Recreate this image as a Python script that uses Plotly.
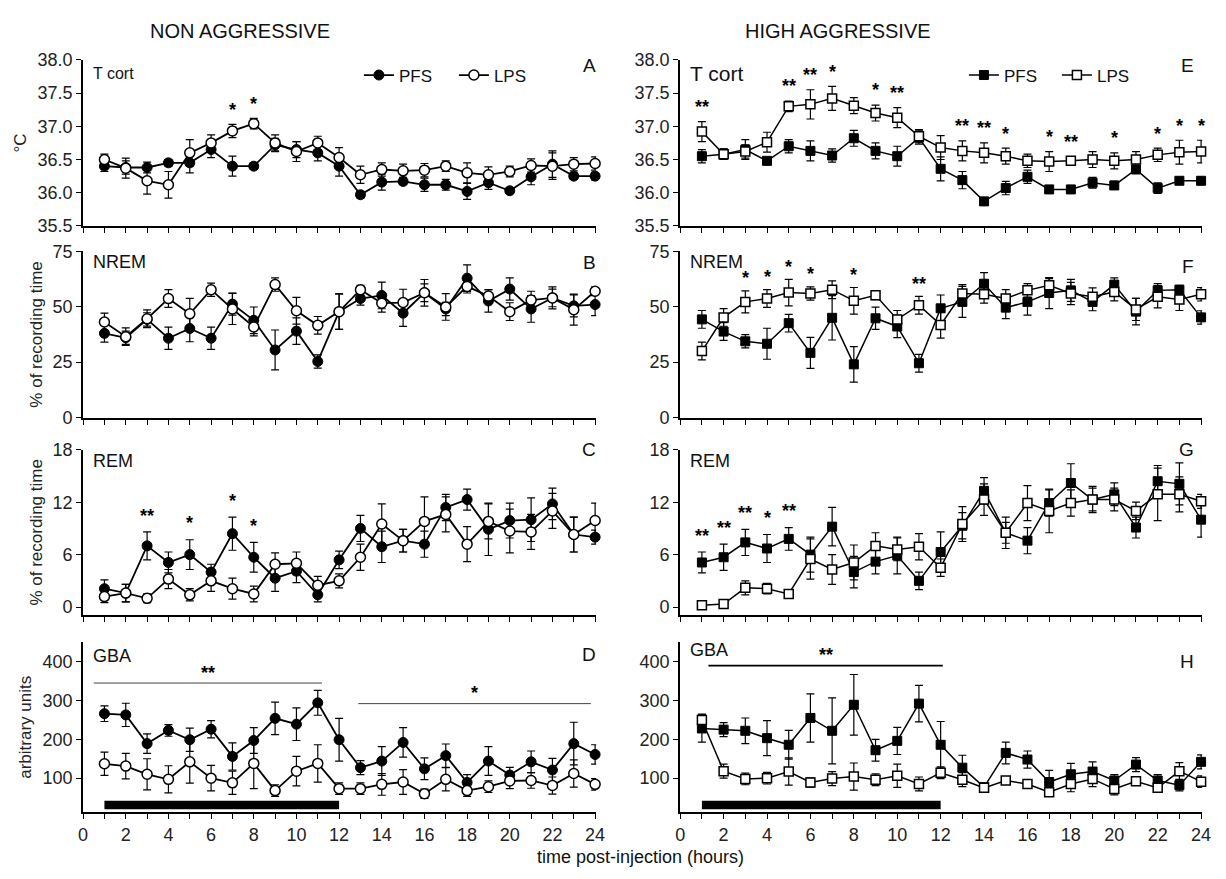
import plotly.graph_objects as go

hours = list(range(1, 25))
x_ticks = list(range(0, 25))
x_ticklabels = [str(h) if h % 2 == 0 else "" for h in x_ticks]

# ---------------- NON AGGRESSIVE ----------------
# A: cortical temperature (°C)
na_tcort_pfs = [36.40, 36.38, 36.38, 36.45, 36.45, 36.65, 36.40, 36.40, 36.72, 36.65, 36.60, 36.40,
                35.97, 36.16, 36.17, 36.12, 36.12, 36.02, 36.15, 36.03, 36.24, 36.43, 36.25, 36.25]
na_tcort_pfs_err = [0.08, 0.10, 0.08, 0.05, 0.15, 0.12, 0.15, 0.05, 0.10, 0.12, 0.12, 0.15,
                    0.05, 0.12, 0.05, 0.10, 0.08, 0.12, 0.10, 0.04, 0.12, 0.20, 0.05, 0.06]
na_tcort_lps = [36.50, 36.37, 36.18, 36.12, 36.60, 36.75, 36.93, 37.04, 36.75, 36.62, 36.75, 36.53,
                36.27, 36.35, 36.33, 36.34, 36.40, 36.30, 36.27, 36.32, 36.41, 36.40, 36.43, 36.44]
na_tcort_lps_err = [0.08, 0.15, 0.20, 0.20, 0.20, 0.12, 0.10, 0.08, 0.12, 0.15, 0.10, 0.15,
                    0.13, 0.10, 0.10, 0.10, 0.08, 0.15, 0.12, 0.08, 0.10, 0.20, 0.10, 0.10]
na_tcort_sig = {7: "*", 8: "*"}

# B: NREM (% of recording time)
na_nrem_pfs = [38.0, 36.0, 44.3, 35.8, 40.2, 35.8, 51.2, 43.9, 30.5, 39.0, 25.3, 47.8,
               53.7, 55.1, 47.1, 56.3, 49.0, 62.9, 52.6, 58.0, 49.0, 54.0, 50.4, 51.0]
na_nrem_pfs_err = [4, 3, 3, 5, 6, 5, 5, 6, 9, 6, 3, 8, 3, 6, 6, 4, 3, 6, 5, 5, 6, 4, 5, 5]
na_nrem_lps = [43.1, 36.5, 44.6, 53.7, 46.8, 57.7, 49.0, 40.9, 60.0, 48.2, 41.6, 47.8,
               57.7, 51.6, 51.9, 56.3, 49.9, 59.2, 54.8, 47.8, 53.0, 54.0, 48.7, 57.0]
na_nrem_lps_err = [4, 4, 4, 4, 7, 3, 7, 4, 3, 6, 4, 8, 2, 4, 6, 6, 6, 3, 3, 4, 4, 5, 7, 2]
na_nrem_sig = {}

# C: REM (% of recording time)
na_rem_pfs = [2.1, 1.6, 7.0, 5.1, 6.0, 4.0, 8.4, 5.7, 3.3, 4.1, 1.4, 5.4,
              9.0, 6.9, 7.6, 7.2, 11.4, 12.3, 8.9, 9.9, 10.0, 11.8, 8.3, 8.0]
na_rem_pfs_err = [1.0, 1.0, 1.6, 1.2, 1.7, 0.9, 1.9, 1.7, 1.5, 1.3, 0.8, 1.0,
                  1.5, 1.8, 1.3, 1.5, 1.5, 1.2, 3.0, 2.0, 2.5, 1.8, 2.0, 0.8]
na_rem_lps = [1.2, 1.6, 1.0, 3.2, 1.4, 3.0, 2.1, 1.5, 4.9, 5.0, 2.5, 3.0,
              5.7, 9.5, 7.6, 9.8, 10.6, 7.2, 9.8, 8.7, 8.6, 11.0, 8.3, 9.9]
na_rem_lps_err = [0.7, 1.0, 0.5, 1.1, 0.7, 1.2, 1.2, 0.9, 1.3, 1.3, 1.0, 0.8,
                  1.5, 2.3, 1.3, 2.8, 2.0, 2.0, 2.0, 2.5, 2.0, 2.0, 2.0, 2.0]
na_rem_sig = {3: "**", 5: "*", 7: "*", 8: "*"}

# D: GBA (arbitrary units)
na_gba_pfs = [266, 263, 189, 223, 199, 226, 156, 197, 254, 239, 294, 199,
              127, 144, 192, 124, 158, 89, 144, 108, 142, 121, 189, 161]
na_gba_pfs_err = [20, 30, 25, 15, 30, 22, 35, 33, 42, 42, 32, 55, 18, 37, 38, 28, 30, 20, 37, 20, 28, 30, 55, 25]
na_gba_lps = [137, 131, 110, 97, 142, 100, 88, 138, 68, 118, 138, 73,
              73, 84, 90, 60, 97, 68, 78, 93, 94, 81, 112, 84]
na_gba_lps_err = [30, 33, 40, 35, 55, 33, 30, 65, 15, 38, 48, 15, 15, 28, 32, 12, 30, 15, 15, 20, 20, 22, 35, 15]
na_gba_sig = {}
na_gba_spans = [(0.5, 11.2, 345, "**"), (12.9, 23.8, 292, "*")]

# ---------------- HIGH AGGRESSIVE ----------------
ha_tcort_pfs = [36.55, 36.58, 36.65, 36.48, 36.70, 36.63, 36.56, 36.82, 36.63, 36.55, 36.83, 36.36,
                36.19, 35.87, 36.07, 36.24, 36.05, 36.05, 36.15, 36.11, 36.35, 36.07, 36.18, 36.18]
ha_tcort_pfs_err = [0.10, 0.08, 0.15, 0.05, 0.10, 0.15, 0.10, 0.12, 0.12, 0.15, 0.10, 0.18,
                    0.13, 0.05, 0.10, 0.10, 0.05, 0.05, 0.08, 0.06, 0.06, 0.08, 0.05, 0.06]
ha_tcort_lps = [36.92, 36.58, 36.62, 36.76, 37.30, 37.33, 37.42, 37.31, 37.20, 37.13, 36.85, 36.68,
                36.63, 36.60, 36.55, 36.48, 36.47, 36.48, 36.50, 36.48, 36.50, 36.57, 36.61, 36.62]
ha_tcort_lps_err = [0.15, 0.08, 0.10, 0.15, 0.08, 0.22, 0.18, 0.12, 0.12, 0.15, 0.10, 0.18,
                    0.15, 0.15, 0.12, 0.10, 0.15, 0.06, 0.12, 0.12, 0.12, 0.10, 0.18, 0.17]
ha_tcort_sig = {1: "**", 5: "**", 6: "**", 7: "*", 9: "*", 10: "**", 13: "**", 14: "**", 15: "*",
                17: "*", 18: "**", 20: "*", 22: "*", 23: "*", 24: "*"}

ha_nrem_pfs = [44.3, 38.8, 34.4, 33.3, 42.6, 29.2, 45.0, 24.0, 44.8, 41.1, 24.5, 49.3,
               52.2, 60.4, 49.6, 52.2, 56.2, 57.4, 52.2, 60.0, 47.8, 57.4, 57.7, 45.2]
ha_nrem_pfs_err = [4, 4, 3, 7, 4, 7, 10, 8, 5, 5, 4, 6, 7, 5, 5, 6, 7, 5, 4, 3, 6, 3, 2, 3]
ha_nrem_lps = [30.0, 45.2, 52.2, 53.7, 56.4, 56.0, 57.7, 52.7, 55.2, 44.3, 50.7, 41.8,
               56.0, 55.6, 53.7, 57.4, 59.7, 56.0, 54.5, 56.7, 48.8, 54.5, 53.3, 55.6]
ha_nrem_lps_err = [4, 4, 5, 4, 6, 3, 4, 6, 2, 4, 4, 6, 4, 4, 4, 3, 3, 5, 4, 4, 5, 5, 5, 3]
ha_nrem_sig = {3: "*", 4: "*", 5: "*", 6: "*", 8: "*", 11: "**"}

ha_rem_pfs = [5.1, 5.7, 7.4, 6.7, 7.8, 6.0, 9.2, 4.0, 5.2, 5.9, 3.0, 6.3,
              9.3, 13.3, 8.5, 7.6, 11.9, 14.2, 12.3, 12.9, 9.1, 14.4, 14.1, 10.0]
ha_rem_pfs_err = [1.2, 1.5, 1.5, 1.6, 1.3, 2.0, 2.2, 1.8, 1.4, 2.1, 1.0, 2.3,
                  1.5, 1.5, 1.8, 1.5, 1.5, 2.2, 1.3, 1.3, 1.2, 1.8, 2.4, 2.0]
ha_rem_lps = [0.2, 0.35, 2.2, 2.1, 1.5, 5.5, 4.3, 5.1, 7.0, 6.6, 6.9, 4.5,
              9.5, 12.3, 8.5, 11.9, 11.0, 11.9, 12.3, 12.3, 11.0, 12.9, 12.9, 12.1]
ha_rem_lps_err = [0.3, 0.3, 0.8, 0.6, 0.4, 2.3, 1.7, 2.0, 1.5, 1.3, 1.5, 1.0,
                  2.0, 1.8, 1.2, 2.0, 2.5, 1.5, 1.5, 1.3, 1.0, 3.0, 2.0, 0.8]
ha_rem_sig = {1: "**", 2: "**", 3: "**", 4: "*", 5: "**"}

ha_gba_pfs = [228, 225, 222, 203, 186, 255, 222, 289, 172, 196, 292, 186,
              127, 77, 165, 148, 90, 110, 117, 94, 135, 94, 82, 142]
ha_gba_pfs_err = [35, 18, 33, 45, 37, 62, 85, 78, 28, 35, 47, 60, 32, 5, 28, 22, 30, 28, 25, 15, 18, 15, 15, 18]
ha_gba_lps = [250, 118, 98, 100, 117, 89, 99, 104, 96, 106, 85, 114,
              96, 75, 94, 85, 64, 85, 98, 72, 92, 75, 118, 91]
ha_gba_lps_err = [15, 18, 15, 15, 35, 12, 18, 35, 15, 30, 18, 15, 18, 10, 10, 10, 10, 20, 20, 15, 10, 10, 22, 15]
ha_gba_sig = {}
ha_gba_spans = [(1.3, 12.1, 390, "**")]

light_period = (1, 12)

col_titles = ["NON AGGRESSIVE", "HIGH AGGRESSIVE"]
row_names = ["T cort", "NREM", "REM", "GBA"]
y_titles = ["°C", "% of recording time", "% of recording time", "arbitrary units"]
y_ranges = [[35.5, 38.0], [0, 75], [-0.9, 18], [12, 450]]
y_tickvals = [[35.5, 36.0, 36.5, 37.0, 37.5, 38.0], [0, 25, 50, 75], [0, 6, 12, 18], [100, 200, 300, 400]]
y_ticktext = [["35.5", "36.0", "36.5", "37.0", "37.5", "38.0"], ["0", "25", "50", "75"], ["0", "6", "12", "18"],
              ["100", "200", "300", "400"]]
letters = [["A", "B", "C", "D"], ["E", "F", "G", "H"]]

data = [
    [(na_tcort_pfs, na_tcort_pfs_err, na_tcort_lps, na_tcort_lps_err, na_tcort_sig),
     (na_nrem_pfs, na_nrem_pfs_err, na_nrem_lps, na_nrem_lps_err, na_nrem_sig),
     (na_rem_pfs, na_rem_pfs_err, na_rem_lps, na_rem_lps_err, na_rem_sig),
     (na_gba_pfs, na_gba_pfs_err, na_gba_lps, na_gba_lps_err, na_gba_sig)],
    [(ha_tcort_pfs, ha_tcort_pfs_err, ha_tcort_lps, ha_tcort_lps_err, ha_tcort_sig),
     (ha_nrem_pfs, ha_nrem_pfs_err, ha_nrem_lps, ha_nrem_lps_err, ha_nrem_sig),
     (ha_rem_pfs, ha_rem_pfs_err, ha_rem_lps, ha_rem_lps_err, ha_rem_sig),
     (ha_gba_pfs, ha_gba_pfs_err, ha_gba_lps, ha_gba_lps_err, ha_gba_sig)],
]
gba_spans = [na_gba_spans, ha_gba_spans]

# layout placement (pixels for domains, paper fractions for letters)
W, H = 1226, 879
col_px = [(79, 598), (683, 1211)]
row_px = [(51, 221), (247, 417), (450, 619), (647, 821)]
label_y = [[37.79, 70.2, 16.7, 414], [37.79, 70.1, 16.7, 429]]
letter_py = [[57, 258, 450, 660], [57, 262, 450, 667]]   # pixel rows of panel letters
letter_px = [600, 1205]                                  # right edge of panel letters

FONT = "Arial, 'Liberation Sans', sans-serif"
fig = go.Figure()
annotations = []
shapes = []

sym = [("circle", "circle-open"), ("square", "square-open")]
msize = [10, 9]
lw = [1.8, 1.5]
sig_pad = [0.04, 0.3, 0.5, 10]

for c in range(2):
    for r in range(4):
        idx = c * 4 + r + 1
        xa = "x" if idx == 1 else f"x{idx}"
        ya = "y" if idx == 1 else f"y{idx}"
        pfs, pfs_err, lps, lps_err, sig = data[c][r]
        show = (r == 0)
        legend_name = "legend" if c == 0 else "legend2"
        err_style = dict(type="data", symmetric=True, color="black", thickness=1.2, width=4)
        fig.add_trace(go.Scatter(
            x=hours, y=pfs, xaxis=xa, yaxis=ya, mode="lines+markers", name="PFS",
            showlegend=show, legend=legend_name, cliponaxis=False,
            line=dict(color="black", width=lw[c]),
            marker=dict(symbol=sym[c][0], size=msize[c], color="black", line=dict(color="black", width=1)),
            error_y=dict(array=pfs_err, **err_style)))
        fig.add_trace(go.Scatter(
            x=hours, y=lps, xaxis=xa, yaxis=ya, mode="lines+markers", name="LPS",
            showlegend=show, legend=legend_name, cliponaxis=False,
            line=dict(color="black", width=lw[c]),
            marker=dict(symbol="circle" if c == 0 else "square", size=msize[c], color="white",
                        line=dict(color="black", width=1.5)),
            error_y=dict(array=lps_err, **err_style)))

        x0, x1 = col_px[c]
        t, b = row_px[r]
        xdom = [x0 / W, x1 / W]
        ydom = [1 - b / H, 1 - t / H]
        bottom = (r == 3)
        fig.update_layout(**{
            ("xaxis" if idx == 1 else f"xaxis{idx}"): dict(
                domain=xdom, anchor=ya, range=[0, 24.05], tickvals=x_ticks,
                ticktext=x_ticklabels if bottom else [""] * len(x_ticks),
                ticks="outside", ticklen=5, tickwidth=1.2, tickcolor="black",
                showline=True, linewidth=2, linecolor="black", showgrid=False, zeroline=False,
                tickfont=dict(size=18, color="#222", family=FONT)),
            ("yaxis" if idx == 1 else f"yaxis{idx}"): dict(
                domain=ydom, anchor=xa, range=y_ranges[r], tickvals=y_tickvals[r], ticktext=y_ticktext[r],
                ticks="outside", ticklen=5, tickwidth=1.2, tickcolor="black",
                showline=True, linewidth=2, linecolor="black", showgrid=False, zeroline=False,
                tickfont=dict(size=18, color="#222", family=FONT),
                title=dict(text=y_titles[r] if c == 0 else "", font=dict(size=17, color="#222", family=FONT),
                           standoff=6)),
        })

        # row label and panel letter
        lab_size = 18 if not (c == 1 and r == 0) else 21
        if c == 0 and r == 0:
            lab_size = 16
        annotations.append(dict(x=0.35, y=label_y[c][r], xref=xa, yref=ya, text=row_names[r],
                                showarrow=False, xanchor="left", yanchor="middle",
                                font=dict(size=lab_size, color="#111", family=FONT)))
        annotations.append(dict(x=letter_px[c] / W, y=1 - letter_py[c][r] / H, xref="paper", yref="paper",
                                text=letters[c][r], showarrow=False, xanchor="right", yanchor="middle",
                                font=dict(size=19, color="#111", family=FONT)))

        # significance asterisks
        for h, s in sig.items():
            i = hours.index(h)
            top = max(pfs[i] + pfs_err[i], lps[i] + lps_err[i])
            annotations.append(dict(x=h, y=top + sig_pad[r], xref=xa, yref=ya, text=f"<b>{s}</b>",
                                    showarrow=False, xanchor="center", yanchor="bottom",
                                    font=dict(size=18, color="black", family=FONT)))

        if bottom:
            # dark-period bar
            shapes.append(dict(type="rect", xref=xa, yref=ya, x0=light_period[0], x1=light_period[1],
                               y0=20, y1=42, fillcolor="black", line=dict(width=0)))
            for (sx0, sx1, sy, s) in gba_spans[c]:
                shapes.append(dict(type="line", xref=xa, yref=ya, x0=sx0, x1=sx1, y0=sy, y1=sy,
                                   line=dict(color="black" if c == 1 else "#444", width=1.8 if c == 1 else 1)))
                annotations.append(dict(x=(sx0 + sx1) / 2, y=sy - 4, xref=xa, yref=ya, text=f"<b>{s}</b>",
                                        showarrow=False, xanchor="center", yanchor="bottom",
                                        font=dict(size=18, color="black", family=FONT)))

# column titles
for c in range(2):
    annotations.append(dict(x=[238, 843][c] / W, y=1 - 22 / H, xref="paper", yref="paper", text=col_titles[c],
                            showarrow=False, xanchor="center", yanchor="middle",
                            font=dict(size=20, color="#111", family=FONT)))
annotations.append(dict(x=643 / W, y=1 - 867 / H, xref="paper", yref="paper", text="time post-injection (hours)",
                        showarrow=False, xanchor="center", yanchor="middle",
                        font=dict(size=18, color="#111", family=FONT)))

fig.update_layout(
    width=W, height=H, margin=dict(l=0, r=0, t=0, b=0),
    paper_bgcolor="white", plot_bgcolor="white",
    font=dict(family=FONT, color="#111"),
    annotations=annotations, shapes=shapes,
    legend=dict(orientation="h", x=358 / W, y=1 - 67 / H, xanchor="left", yanchor="middle",
                font=dict(size=17, color="#111"), bgcolor="rgba(0,0,0,0)", itemwidth=30,
                entrywidth=50, tracegroupgap=0),
    legend2=dict(orientation="h", x=970 / W, y=1 - 67 / H, xanchor="left", yanchor="middle",
                 font=dict(size=17, color="#111"), bgcolor="rgba(0,0,0,0)", itemwidth=30,
                 entrywidth=48),
)

fig.write_html("out.html", config={"displayModeBar": False},
               post_script="document.body.style.margin='0';")
